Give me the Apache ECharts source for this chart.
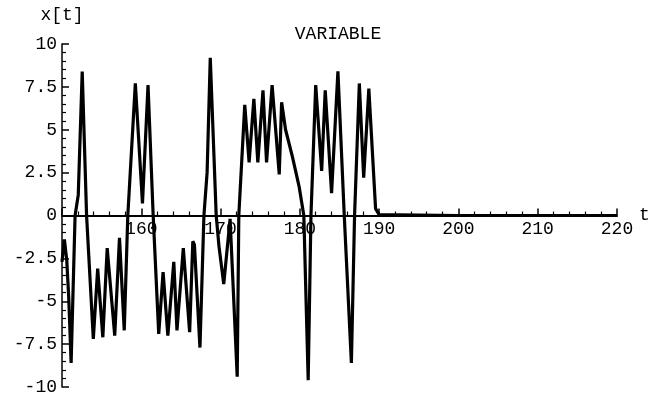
<!DOCTYPE html>
<html>
<head>
<meta charset="utf-8">
<script src="https://cdn.jsdelivr.net/npm/echarts@6/dist/echarts.min.js"></script>
<style>
  html, body { margin: 0; padding: 0; background: #fff; }
  #chart { width: 652px; height: 395px; }
</style>
</head>
<body>
<div id="chart"></div>
<script>
// t values and x[t] values
var tValues = [
  150.0, 150.3, 150.6, 150.85, 151.15, 151.65, 152.05, 152.55, 153.1, 153.95,
  154.5, 155.15, 155.7, 156.65, 157.25, 157.45, 157.85, 158.3, 159.25, 160.15,
  160.85, 161.5, 162.2, 162.75, 163.35, 164.1, 164.5, 165.3, 166.1, 166.5,
  166.7, 167.4, 167.9, 168.3, 168.7, 169.45, 169.8, 170.4, 171.2, 172.1,
  172.3, 173.05, 173.6, 174.2, 174.7, 175.35, 175.8, 176.5, 177.4, 177.7,
  178.2, 179.05, 179.9, 180.5, 181.05, 181.4, 182.0, 182.75, 183.2, 184.0,
  184.8, 185.6, 186.5, 186.9, 187.5, 188.05, 188.7, 189.55, 190.0, 200.0,
  210.0, 220.0
];
var xValues = [
  -2.7, -1.4, -2.6, -4.8, -8.6, 0, 1.2, 8.4, 0, -7.2,
  -3.1, -7.1, -1.9, -7.0, -1.3, -1.4, -6.7, 0, 7.7, 0.7,
  7.6, 0, -6.9, -3.3, -7.0, -2.7, -6.7, -1.9, -6.8, -1.5,
  -1.7, -7.7, 0, 2.5, 9.2, 0, -1.8, -4.0, -0.2, -9.4,
  0, 6.45, 3.1, 6.8, 3.1, 7.3, 3.1, 7.6, 2.4, 6.6,
  5.0, 3.45, 1.7, 0, -9.6, 0, 7.6, 2.6, 7.3, 1.3,
  8.4, 0, -8.6, 0, 7.7, 2.2, 7.4, 0.4, 0.05, 0,
  0, 0
];
var yTicks = [-10, -7.5, -5, -2.5, 0, 2.5, 5, 7.5, 10];
var tTicks = [150, 160, 170, 180, 190, 200, 210, 220];

var seriesData = tValues.map(function (t, i) { return [t, xValues[i]]; });

var font = 'Liberation Mono';
var gridTop = 44, gridBottom = 8, chartH = 395;
// distance from grid bottom up to the y = 0 line (y range is symmetric)
var zeroOffset = (chartH - gridTop - gridBottom) / 2;

var chart = echarts.init(document.getElementById('chart'));
var option = {
  animation: false,
  backgroundColor: '#fff',
  title: {
    text: 'VARIABLE',
    left: 333,
    top: 20,
    textAlign: 'center',
    textStyle: { fontFamily: font, fontSize: 18, fontWeight: 'normal', color: '#000' }
  },
  grid: { left: 62, right: 35, top: gridTop, bottom: gridBottom, containLabel: false, outerBoundsMode: 'none' },
  xAxis: {
    type: 'value',
    position: 'bottom',
    offset: -zeroOffset,
    min: tTicks[0],
    max: tTicks[tTicks.length - 1],
    interval: 10,
    name: 't',
    nameLocation: 'end',
    nameGap: 4,
    nameTextStyle: { fontFamily: font, fontSize: 18, color: '#000', padding: [0, 0, 10, 0] },
    axisLine: { onZero: false, lineStyle: { color: '#000', width: 2 } },
    axisTick: { show: true, inside: true, length: 7, lineStyle: { color: '#000', width: 1.5 } },
    minorTick: { show: true, splitNumber: 5, length: 4, lineStyle: { color: '#000', width: 1.2 } },
    axisLabel: {
      showMinLabel: false,
      margin: 5,
      fontFamily: font, fontSize: 18, color: '#000'
    },
    splitLine: { show: false }
  },
  yAxis: {
    type: 'value',
    min: yTicks[0],
    max: yTicks[yTicks.length - 1],
    interval: 2.5,
    name: 'x[t]',
    nameLocation: 'end',
    nameGap: 20,
    nameTextStyle: { fontFamily: font, fontSize: 18, color: '#000' },
    axisLine: { show: true, onZero: false, lineStyle: { color: '#000', width: 1.5 } },
    axisTick: { show: true, inside: true, length: 7, lineStyle: { color: '#000', width: 1.5 } },
    minorTick: { show: true, splitNumber: 5, length: 4, lineStyle: { color: '#000', width: 1.2 } },
    axisLabel: { margin: 5, fontFamily: font, fontSize: 18, color: '#000' },
    splitLine: { show: false }
  },
  series: [{
    type: 'line',
    data: seriesData,
    showSymbol: false,
    smooth: false,
    lineStyle: { color: '#000', width: 3.2 }
  }]
};
chart.setOption(option);
</script>
</body>
</html>
